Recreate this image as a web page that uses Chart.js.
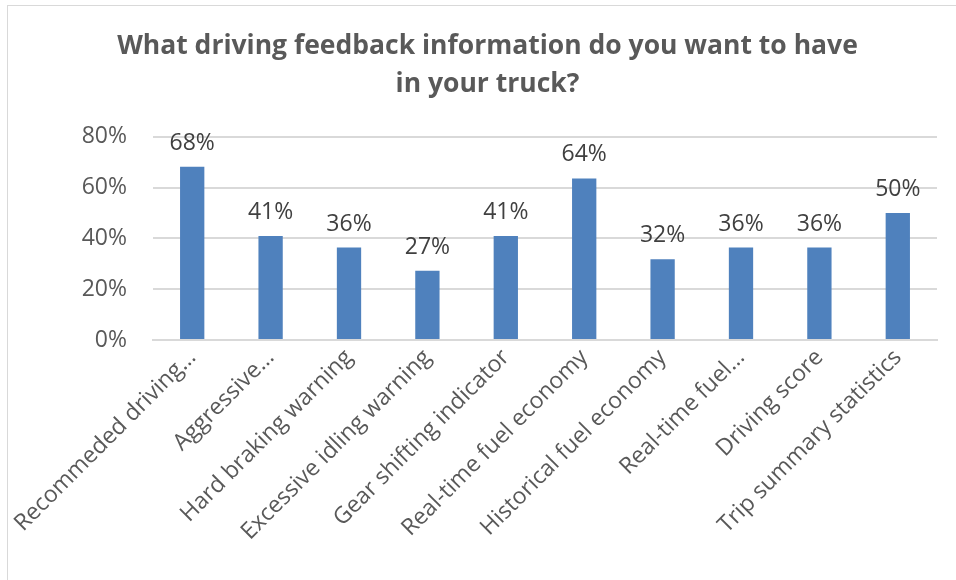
<!DOCTYPE html>
<html>
<head>
<meta charset="utf-8">
<script src="https://cdn.jsdelivr.net/npm/chart.js@4"></script>
<style>
  body { margin: 0; background: #fff; }
  #frame { position: absolute; left: 7px; top: 5px; width: 1000px; height: 620px; border: 1px solid #d9d9d9; }
  #wrap { position: absolute; left: 0; top: 0; width: 956px; height: 580px; }
</style>
</head>
<body>
<div id="frame"></div>
<div id="wrap"><canvas id="myChart" width="956" height="580"></canvas></div>
<script>
const labels = ["Recommeded driving…", "Aggressive…", "Hard braking warning", "Excessive idling warning",
  "Gear shifting indicator", "Real-time fuel economy", "Historical fuel economy", "Real-time fuel…",
  "Driving score", "Trip summary statistics"];
const shares = [68.2, 40.9, 36.4, 27.3, 40.9, 63.6, 31.8, 36.4, 36.4, 50.0];
const yTicks = [0, 20, 40, 60, 80];

const FONT = "'Open Sans', sans-serif";

// draws the percentage above each bar
const barLabels = {
  id: "barLabels",
  afterDatasetsDraw(chart) {
    const ctx = chart.ctx;
    const meta = chart.getDatasetMeta(0);
    ctx.save();
    ctx.font = "23px " + FONT;
    ctx.fillStyle = "#404040";
    ctx.textAlign = "center";
    ctx.textBaseline = "bottom";
    meta.data.forEach((bar, i) => {
      ctx.fillText(Math.round(shares[i]) + "%", bar.x, bar.y - 12);
    });
    ctx.restore();
  }
};

const config = {
  type: "bar",
  data: {
    labels: labels,
    datasets: [{
      data: shares,
      backgroundColor: "#4F81BD",
      barPercentage: 0.31,
      categoryPercentage: 1,
    }],
  },
  options: {
    responsive: false,
    animation: false,
    layout: { padding: { top: 28, right: 19, left: 38, bottom: 0 } },
    scales: {
      x: {
        grid: { display: false },
        border: { color: "#d9d9d9", width: 2 },
        ticks: {
          minRotation: 45,
          maxRotation: 45,
          autoSkip: false,
          padding: -4,
          color: "#595959",
          font: { family: FONT, size: 23 },
        },
        afterFit(scale) { scale.height = 240; },
      },
      y: {
        min: 0,
        max: 80,
        afterBuildTicks(scale) { scale.ticks = yTicks.map(v => ({ value: v })); },
        grid: { color: "#d9d9d9", lineWidth: 2, drawTicks: false },
        border: { display: false },
        ticks: {
          padding: 26,
          color: "#595959",
          font: { family: FONT, size: 23 },
          callback: v => v + "%",
        },
        afterFit(scale) { scale.width = 115; },
      },
    },
    plugins: {
      legend: { display: false },
      tooltip: { enabled: false },
      title: {
        display: true,
        text: ["What driving feedback information do you want to have", "in your truck?"],
        color: "#595959",
        font: { family: FONT, size: 26.5, weight: "bold", lineHeight: 1.43 },
        padding: { top: 0, bottom: 33 },
      },
    },
  },
  plugins: [barLabels],
};

const myChart = new Chart(document.getElementById("myChart").getContext("2d"), config);
</script>
</body>
</html>
